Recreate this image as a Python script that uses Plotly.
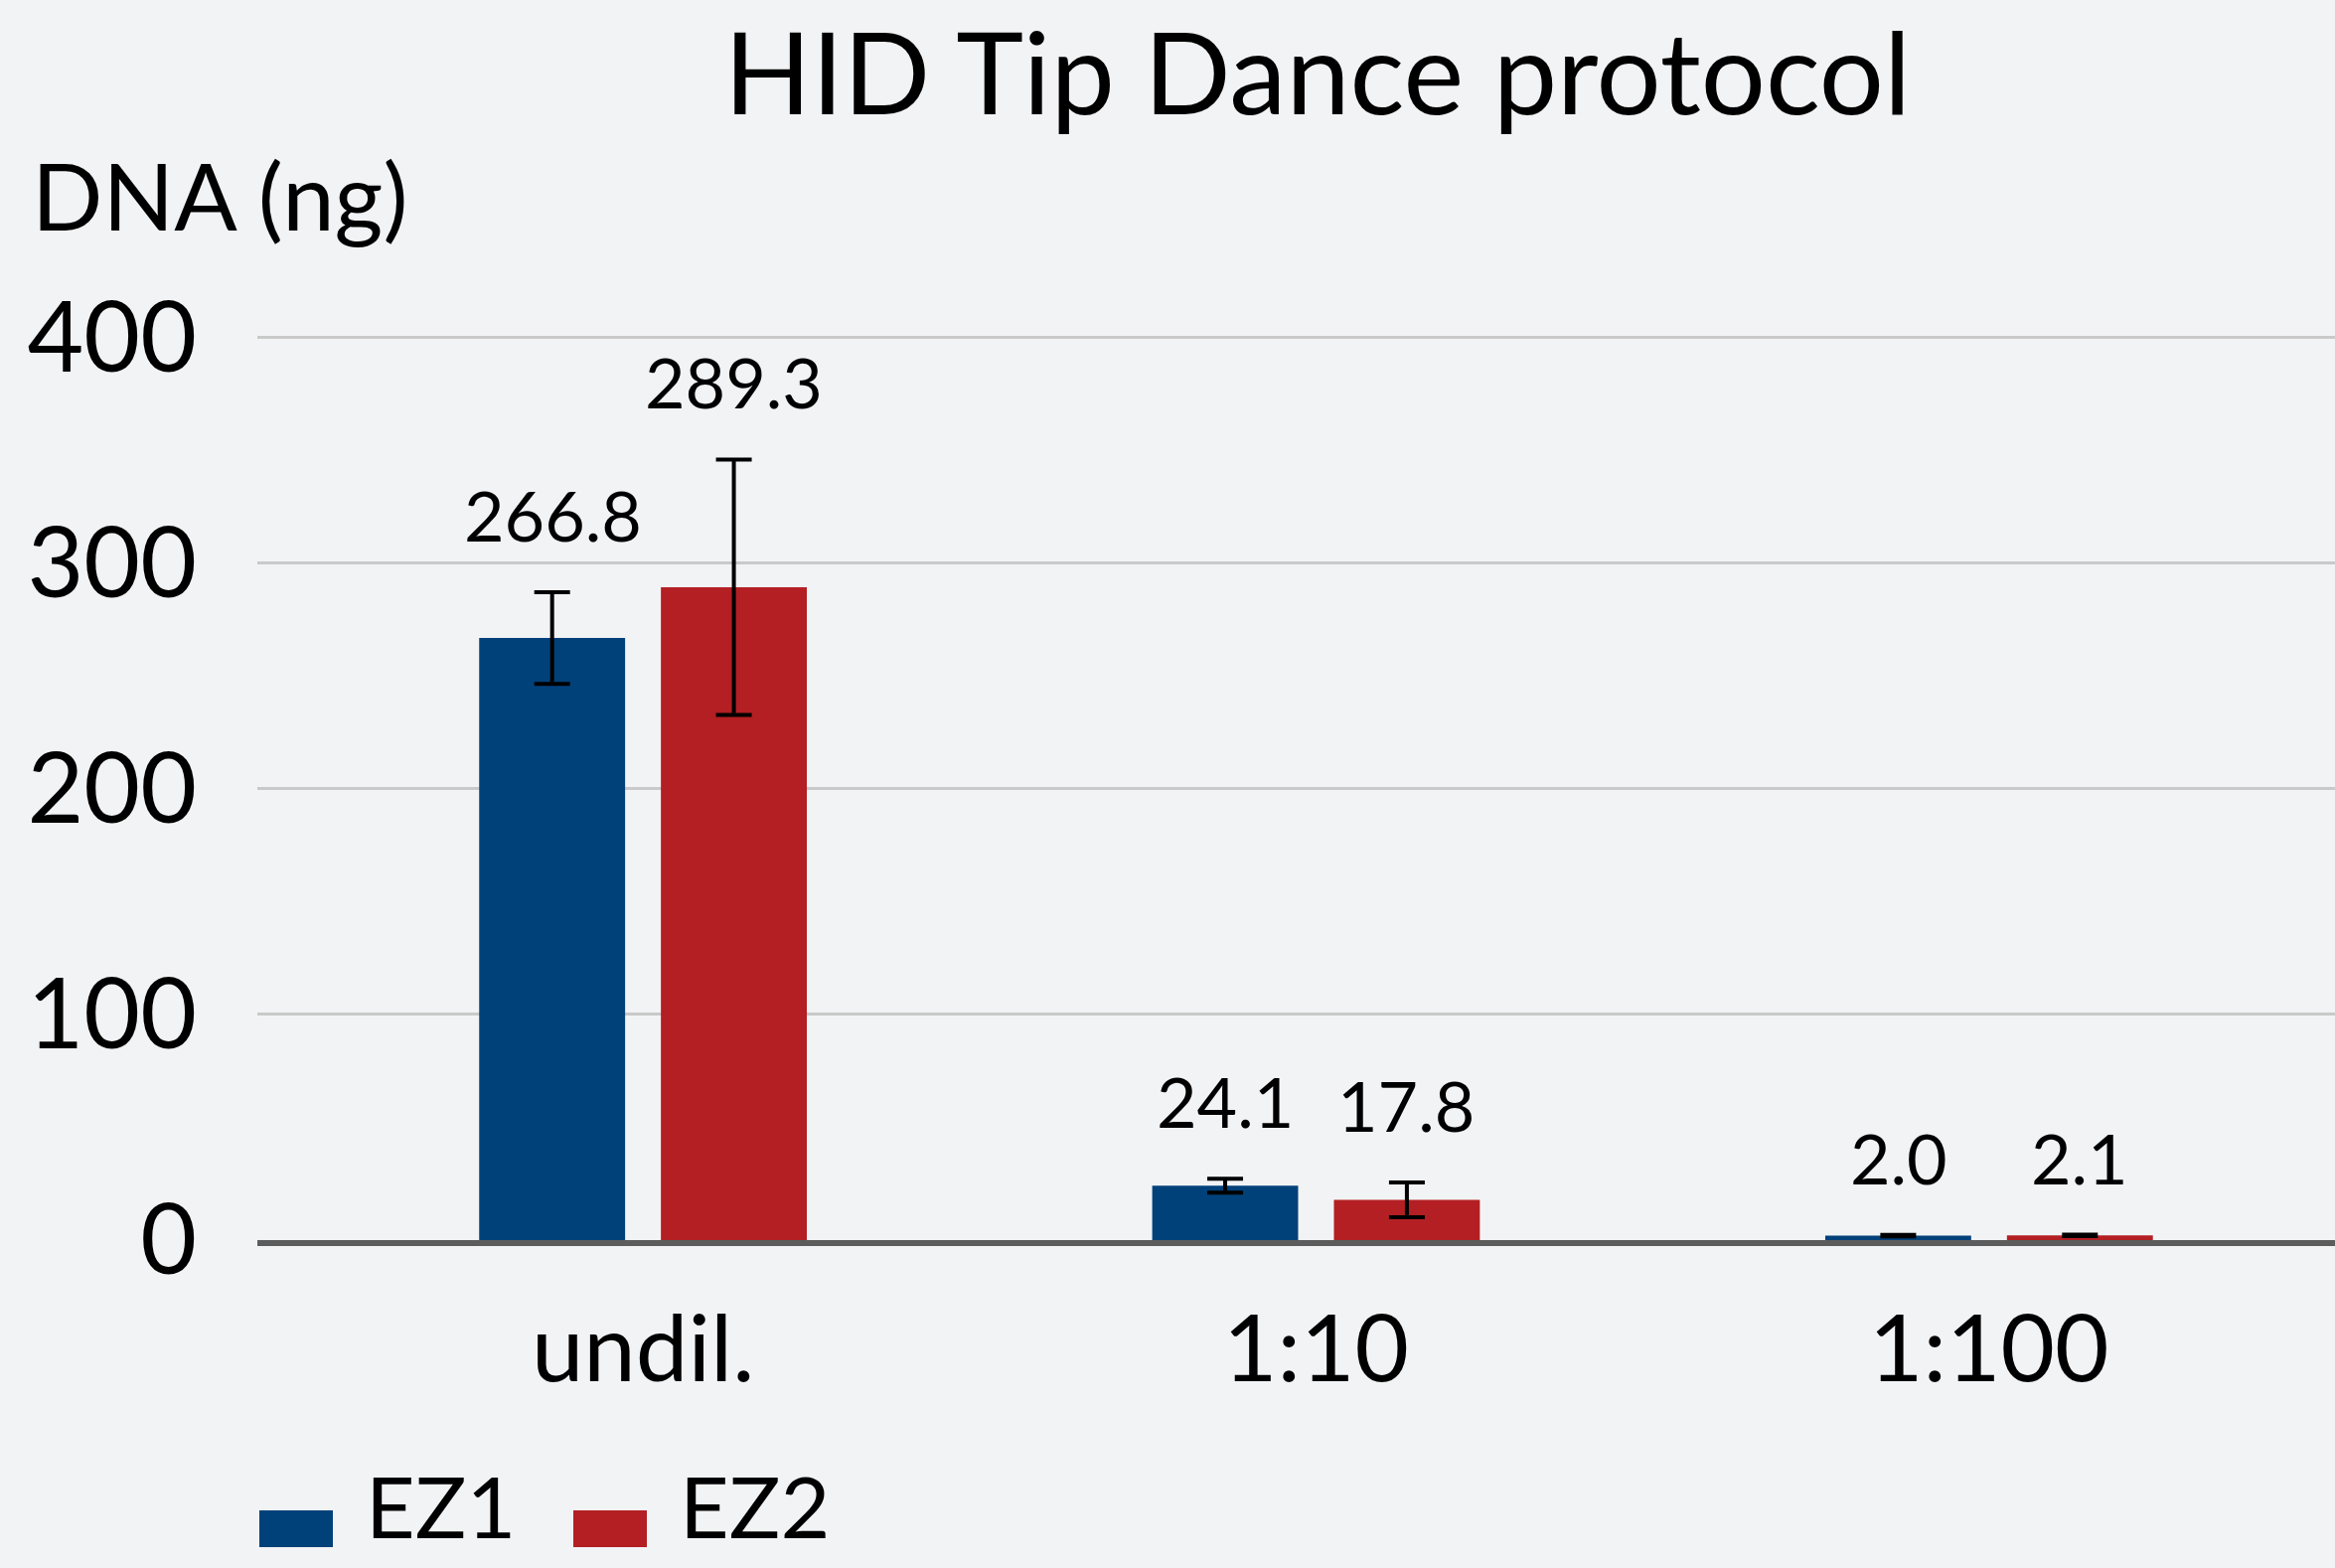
import plotly.graph_objects as go

# ---- data ----
categories = ["undil.", "1:10", "1:100"]
ez1_values = [266.8, 24.1, 2.0]
ez2_values = [289.3, 17.8, 2.1]
ez1_errors = [20.3, 3.1, 0.3]
ez2_errors = [56.6, 7.7, 0.3]
ez1_labels = ["266.8", "24.1", "2.0"]
ez2_labels = ["289.3", "17.8", "2.1"]
series_names = ["EZ1", "EZ2"]
y_ticks = [0, 100, 200, 300, 400]

# ---- style ----
W, H = 2350, 1578
Y_MAX = 402
PX_PER_UNIT = 908 / 400
PL, PR, PB = 259, 2350, 1248
PT = round(PB - Y_MAX * PX_PER_UNIT)
BLUE = "#01417a"
RED = "#b31f23"
FONT = "Lato"
BG = "#f2f3f5"


def px_x(px):
    return (px - PL) / (PR - PL)


def px_y(py):
    return (PB - py) / (PB - PT)


fig = go.Figure()
for name, vals, errs, color in [
    (series_names[0], ez1_values, ez1_errors, BLUE),
    (series_names[1], ez2_values, ez2_errors, RED),
]:
    fig.add_trace(go.Bar(
        x=categories, y=vals, name=name,
        marker=dict(color=color, line=dict(width=0)),
        error_y=dict(type="data", array=errs, visible=True,
                     color="black", thickness=4, width=18),
        showlegend=False,
    ))

annotations = []
GROUP_OFFSET = 91
for labels, vals, errs, sign in [
    (ez1_labels, ez1_values, ez1_errors, -1),
    (ez2_labels, ez2_values, ez2_errors, 1),
]:
    for cat, lab, v, e in zip(categories, labels, vals, errs):
        annotations.append(dict(
            x=cat, y=v + e, xref="x", yref="y", text=lab, showarrow=False,
            xanchor="center", yanchor="bottom", xshift=sign * GROUP_OFFSET,
            yshift=34, font=dict(family=FONT, size=70, color="black"),
        ))

# y-axis title (horizontal, top-left)
annotations.append(dict(
    x=px_x(30), y=px_y(196), xref="paper", yref="paper", text="DNA (ng)",
    showarrow=False, xanchor="left", yanchor="middle",
    font=dict(family=FONT, size=94, color="black"),
))

# custom legend
shapes = []
legend_items = [(series_names[0], BLUE, 261, 372), (series_names[1], RED, 577, 688)]
LEG_SQ_TOP, LEG_SQ_BOT, LEG_TXT_MID = 1520, 1557, 1514
for name, color, sx, tx in legend_items:
    shapes.append(dict(type="rect", xref="paper", yref="paper",
                       x0=px_x(sx), x1=px_x(sx + 74), y0=px_y(LEG_SQ_BOT), y1=px_y(LEG_SQ_TOP),
                       fillcolor=color, line=dict(width=0)))
    annotations.append(dict(
        x=px_x(tx - 6), y=px_y(LEG_TXT_MID), xref="paper", yref="paper", text=name,
        showarrow=False, xanchor="left", yanchor="middle",
        font=dict(family=FONT, size=86, color="black"),
    ))

fig.update_layout(
    width=W, height=H,
    margin=dict(l=PL, r=W - PR, t=PT, b=H - PB, pad=0),
    paper_bgcolor=BG, plot_bgcolor=BG,
    barmode="group", bargap=0.46, bargroupgap=0.197,
    title=dict(text="HID Tip Dance protocol", x=px_x(1326), xref="paper",
               xanchor="center", y=1 - 75 / H, yref="container", yanchor="middle",
               font=dict(family=FONT, size=115, color="black")),
    font=dict(family=FONT, color="black"),
    xaxis=dict(type="category", range=[-0.573, 2.514], showgrid=False,
               showline=True, linecolor="#5c5c5c", linewidth=6, ticks="",
               tickfont=dict(family=FONT, size=94, color="black"),
               ticklabelstandoff=23, zeroline=False),
    yaxis=dict(range=[0, Y_MAX], tickvals=y_ticks, showgrid=True,
               gridcolor="#c9c9c9", gridwidth=3, zeroline=False, showline=False,
               ticks="", tickfont=dict(family=FONT, size=98, color="black"),
               ticklabelstandoff=60),
    annotations=annotations, shapes=shapes,
)

fig.write_html("out.html", config={"displayModeBar": False},
               post_script="document.body.style.margin='0';")
